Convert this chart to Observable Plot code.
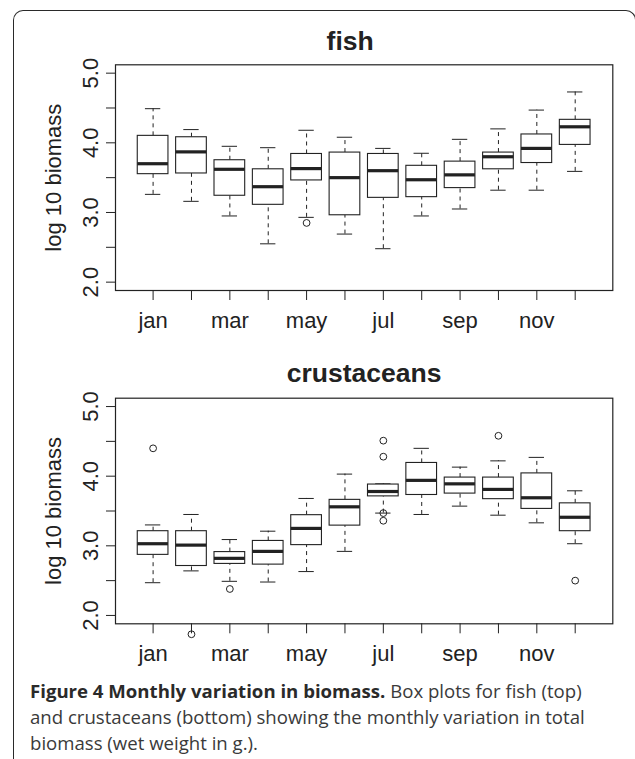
<!DOCTYPE html>
<html>
<head>
<meta charset="utf-8">
<script src="https://cdn.jsdelivr.net/npm/d3@7"></script>
<script src="https://cdn.jsdelivr.net/npm/@observablehq/plot@0.6"></script>
<style>
  html, body { margin: 0; padding: 0; background: #fff; }
  #wrap { position: relative; width: 635px; height: 759px; overflow: hidden; background: #fff; }
  #border { position: absolute; left: 13px; top: 10px; width: 623px; height: 770px; box-sizing: border-box;
    border: 1.6px solid #2a2a2a; border-bottom: none; border-radius: 10px 10px 0 0; }
  .chart { position: absolute; left: 0; }
  #caption { position: absolute; left: 30px; top: 678px; font-family: "Open Sans", sans-serif; font-size: 18.6px;
    line-height: 25.8px; color: #3a3a3a; white-space: nowrap; }
  #caption b { color: #2a2a2a; }
</style>
</head>
<body>
<div id="wrap">
  <div id="border"></div>
  <div id="c1" class="chart" style="top:0px"></div>
  <div id="c2" class="chart" style="top:330px"></div>
  <div id="caption"><b>Figure 4 Monthly variation in biomass.</b> Box plots for fish (top)<br>and crustaceans (bottom) showing the monthly variation in total<br>biomass (wet weight in g.).</div>
</div>
<script>
const months = ["jan","feb","mar","apr","may","jun","jul","aug","sep","oct","nov","dec"];
const yTicks = [2, 2.5, 3, 3.5, 4, 4.5, 5];

// fish (log10 biomass)
const fishLow  = [3.26, 3.16, 2.95, 2.55, 2.93, 2.69, 2.48, 2.95, 3.05, 3.32, 3.32, 3.59];
const fishQ1   = [3.55, 3.56, 3.24, 3.11, 3.46, 2.96, 3.21, 3.22, 3.35, 3.62, 3.71, 3.97];
const fishMed  = [3.70, 3.87, 3.62, 3.37, 3.63, 3.50, 3.60, 3.47, 3.54, 3.80, 3.92, 4.23];
const fishQ3   = [4.10, 4.08, 3.75, 3.62, 3.84, 3.86, 3.84, 3.67, 3.73, 3.86, 4.12, 4.33];
const fishHigh = [4.49, 4.19, 3.95, 3.93, 4.18, 4.08, 3.92, 3.85, 4.05, 4.20, 4.47, 4.73];
const fishOutMonth = [5];
const fishOutValue = [2.85];

// crustaceans (log10 biomass)
const crusLow  = [2.47, 2.64, 2.49, 2.48, 2.63, 2.92, 3.47, 3.45, 3.57, 3.44, 3.33, 3.03];
const crusQ1   = [2.87, 2.71, 2.74, 2.73, 3.01, 3.29, 3.71, 3.73, 3.75, 3.67, 3.53, 3.21];
const crusMed  = [3.03, 3.01, 2.82, 2.92, 3.25, 3.56, 3.78, 3.94, 3.89, 3.81, 3.69, 3.41];
const crusQ3   = [3.21, 3.21, 2.91, 3.07, 3.44, 3.66, 3.88, 4.19, 3.98, 3.98, 4.04, 3.61];
const crusHigh = [3.30, 3.45, 3.09, 3.21, 3.68, 4.03, 3.89, 4.40, 4.13, 4.22, 4.27, 3.79];
const crusOutMonth = [1, 2, 3, 7, 7, 7, 7, 10, 12];
const crusOutValue = [4.40, 1.73, 2.38, 4.51, 4.28, 3.47, 3.36, 4.58, 2.50];

const INK = "#222";

function boxChart({title, titleDx, titleDy, low, q1, med, q3, high, outM, outV, marginTop, marginBottom}) {
  const rows = months.map((name, i) => ({m: i + 1, low: low[i], q1: q1[i], med: med[i], q3: q3[i], high: high[i]}));
  const outs = outM.map((m, i) => ({m, v: outV[i]}));
  const hw = 0.4, sw = 0.2;
  return Plot.plot({
    width: 635,
    height: 345,
    marginLeft: 115,
    marginRight: 22.7,
    marginTop,
    marginBottom,
    style: {background: "transparent", fontFamily: "'Liberation Sans', Arial, sans-serif", fontSize: "22px", color: INK, overflow: "visible"},
    x: {type: "linear", domain: [0.02, 12.98]},
    y: {domain: [1.88, 5.12]},
    marks: [
      Plot.ruleX(rows, {x: "m", y1: "q3", y2: "high", stroke: INK, strokeWidth: 1, strokeDasharray: "4,4"}),
      Plot.ruleX(rows, {x: "m", y1: "low", y2: "q1", stroke: INK, strokeWidth: 1, strokeDasharray: "4,4"}),
      Plot.ruleY(rows, {y: "high", x1: d => d.m - sw, x2: d => d.m + sw, stroke: INK, strokeWidth: 1}),
      Plot.ruleY(rows, {y: "low", x1: d => d.m - sw, x2: d => d.m + sw, stroke: INK, strokeWidth: 1}),
      Plot.rect(rows, {x1: d => d.m - hw, x2: d => d.m + hw, y1: "q1", y2: "q3", fill: "white", stroke: INK, strokeWidth: 1.1}),
      Plot.ruleY(rows, {y: "med", x1: d => d.m - hw, x2: d => d.m + hw, stroke: INK, strokeWidth: 3.2}),
      Plot.dot(outs, {x: "m", y: "v", r: 3.4, stroke: INK, strokeWidth: 1, fill: "none"}),
      Plot.frame({stroke: INK, strokeWidth: 1.2}),
      Plot.axisX({ticks: d3.range(1, 13), tickFormat: d => (d % 2 === 1 ? months[d - 1] : ""), tickSize: 10, tickPadding: 12, fontSize: 22, stroke: INK, fill: INK, label: null}),
      Plot.axisY({ticks: yTicks, tickFormat: d => (Number.isInteger(d) ? d.toFixed(1) : ""), tickSize: 9, tickPadding: 9, tickRotate: -90, textAnchor: "middle", lineAnchor: "bottom", fontSize: 22, stroke: INK, fill: INK, label: null}),
      Plot.text(["log 10 biomass"], {frameAnchor: "left", rotate: -90, dx: -55, textAnchor: "middle", lineAnchor: "bottom", fontSize: 22, fill: INK}),
      Plot.text([title], {frameAnchor: "top", dx: titleDx, dy: titleDy, textAnchor: "middle", lineAnchor: "bottom", fontSize: 26.5, fontWeight: "bold", fill: INK})
    ]
  });
}

document.getElementById("c1").appendChild(boxChart({
  title: "fish", titleDx: -14, titleDy: -15,
  low: fishLow, q1: fishQ1, med: fishMed, q3: fishQ3, high: fishHigh,
  outM: fishOutMonth, outV: fishOutValue, marginTop: 64.3, marginBottom: 55
}));
document.getElementById("c2").appendChild(boxChart({
  title: "crustaceans", titleDx: 0, titleDy: -16,
  low: crusLow, q1: crusQ1, med: crusMed, q3: crusQ3, high: crusHigh,
  outM: crusOutMonth, outV: crusOutValue, marginTop: 67.7, marginBottom: 51.7
}));
</script>
</body>
</html>
